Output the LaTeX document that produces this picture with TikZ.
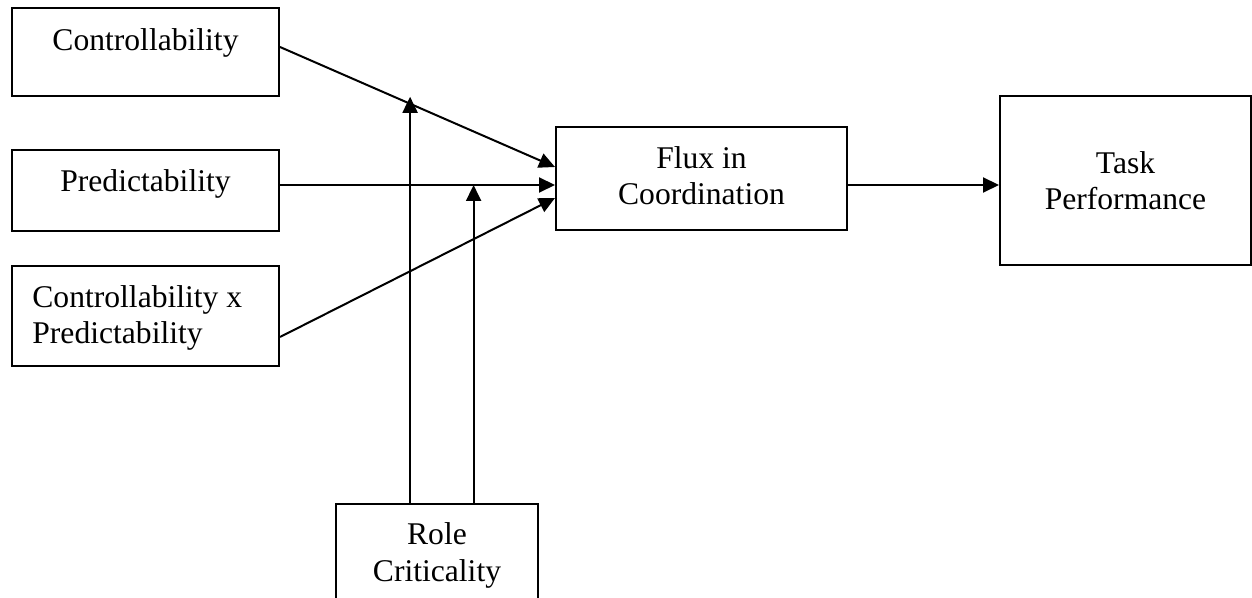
\documentclass[tikz,border=0pt]{standalone}
\usepackage{fontspec}
\setmainfont{Liberation Serif}
\usepackage{tikz}
\usetikzlibrary{arrows.meta,positioning,calc}
\definecolor{fcedge}{RGB}{0,0,0}
\tikzset{
  fcbox/.style={
    draw=fcedge, line width=1pt, inner sep=0pt, align=center
  },
  txt/.style={
    inner sep=0pt, align=center,
    font=\fontsize{15.8pt}{18.3pt}\selectfont
  },
  arr/.style={-{Triangle[length=8pt,width=7.5pt]}, draw=fcedge, line width=1pt},
  every picture/.append style={x=0.5pt, y=-0.5pt, line join=miter}
}
\begin{document}
\begin{tikzpicture}
  \useasboundingbox (0,0) rectangle (1252,598);
  \clip (0,0) rectangle (1252,598);
  % boxes
  \node[fcbox, minimum width=133.5pt, minimum height=44pt] (ctrl) at (145.5,52) {};
  \node[fcbox, minimum width=133.5pt, minimum height=40.5pt] (pred) at (145.5,190.5) {};
  \node[fcbox, minimum width=133.5pt, minimum height=50pt] (cxp) at (145.5,316) {};
  \node[fcbox, minimum width=145.5pt, minimum height=51.5pt] (flux) at (701.5,178.5) {};
  \node[fcbox, txt, draw=fcedge, line width=1pt, minimum width=125.5pt, minimum height=84.5pt] (task) at (1125.5,180.5) {Task\\Performance};
  \node[fcbox, minimum width=101pt, minimum height=53pt] (role) at (437,557) {};
  % texts
  \node[txt, below=10.5pt of ctrl.north] (ctrltxt) {Controllability};
  \node[txt, below=10pt of pred.north] (predtxt) {Predictability};
  \node[txt, align=left, below right=10pt and 10.5pt of cxp.north west] (cxptxt) {Controllability x\\Predictability};
  \node[txt, below=10pt of flux.north] (fluxtxt) {Flux in\\Coordination};
  \node[txt, below=9.75pt of role.north] (roletxt) {Role\\Criticality};
  % paths
  \draw[arr] ([yshift=2.5pt]ctrl.east) -- coordinate[pos=0.473] (cm) ([yshift=5.75pt]flux.west);
  \draw[arr] ([yshift=2.75pt]pred.east) -- coordinate[pos=0.704] (pm) ([yshift=2.75pt]pred.east -| flux.west);
  \draw[arr] ([yshift=-10.5pt]cxp.east) -- ([yshift=-9.75pt]flux.west);
  \draw[arr] ([yshift=-3.25pt]flux.east) -- ([yshift=-3.25pt]flux.east -| task.west);
  \draw[arr] (cm |- role.north) -- ([yshift=3.5pt]cm);
  \draw[arr] (pm |- role.north) -- (pm);
\end{tikzpicture}
\end{document}
